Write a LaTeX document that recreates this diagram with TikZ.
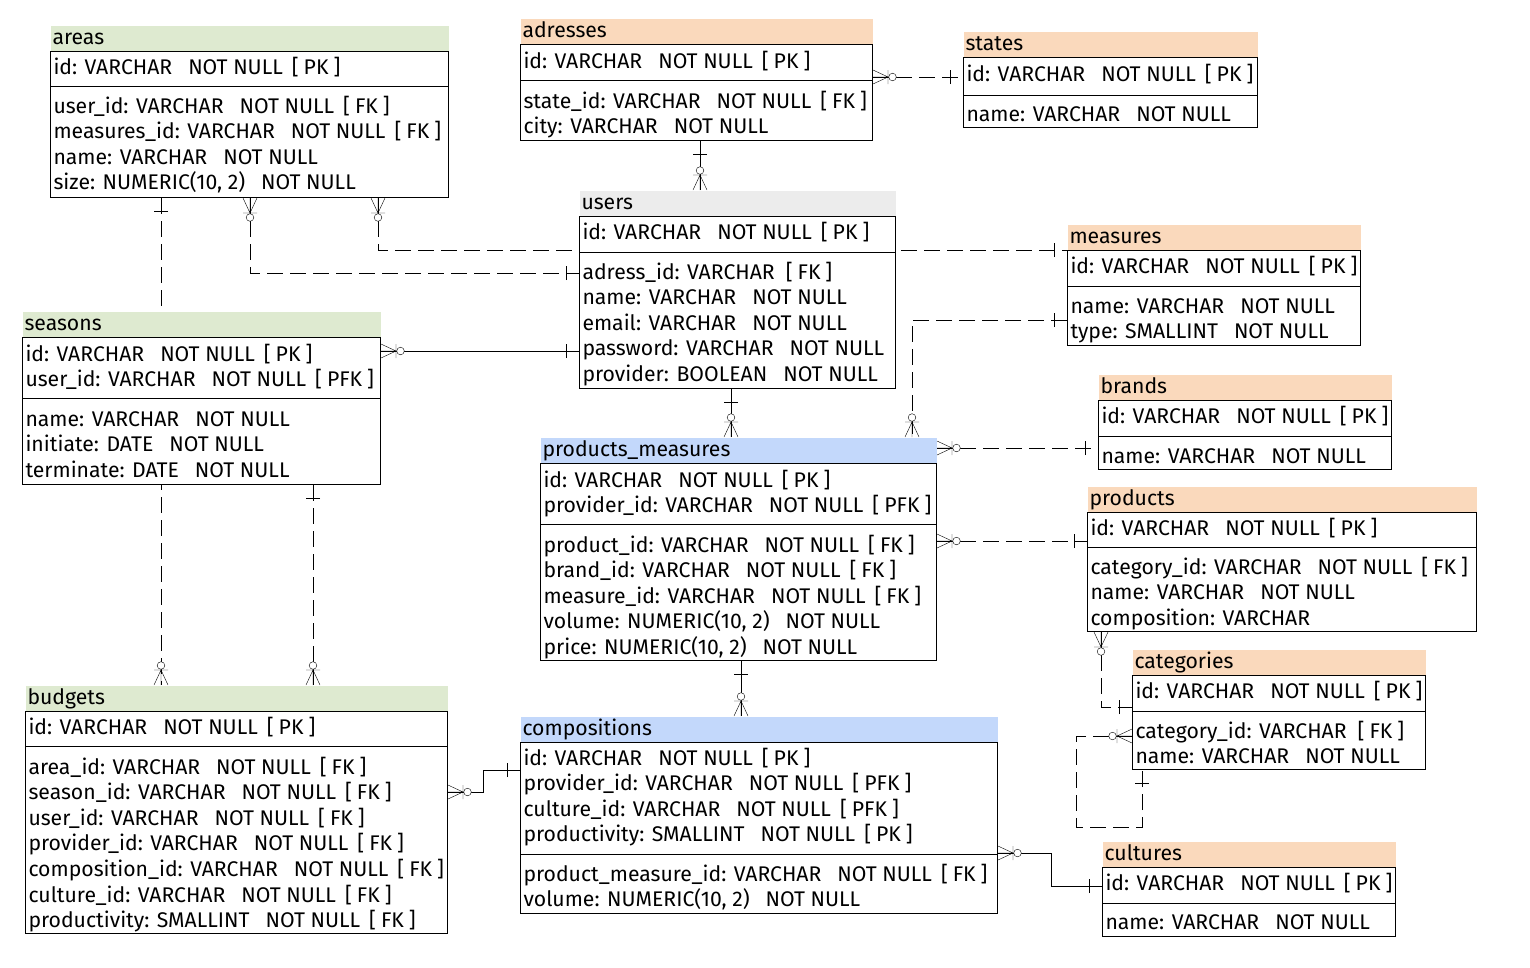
\documentclass[tikz,border=0pt]{standalone}
\usepackage{fontspec}
\setmainfont{Fira Sans}
\usetikzlibrary{calc}
\pgfdeclarelayer{background}
\pgfsetlayers{background,main}
\definecolor{hdrgreen}{RGB}{222,234,208}
\definecolor{hdrorange}{RGB}{250,217,188}
\definecolor{hdrblue}{RGB}{195,216,251}
\definecolor{hdrgray}{RGB}{236,236,236}
\newcommand{\notnull}{\hspace{16pt}NOT NULL}
\newcommand{\keytag}[1]{\hspace{9pt}[\hspace{5pt}#1\hspace{5pt}]}
\newcommand{\fieldrows}[4]{\foreach \txt [count=\i] in {#4} {\node[field] (#1\i) at (#2,{#3+25.6*(\i-1)}) {\txt};}}

\begin{document}
\begin{tikzpicture}[x=1pt,y=-1pt,line width=1pt,font=\fontsize{21.2}{25}\selectfont,
  head/.style={anchor=north west,inner xsep=2pt,inner ysep=0pt,minimum height=26pt,text height=16pt,text depth=4pt,text width=#1},
  box/.style={draw,fill=white,anchor=north west,inner sep=0pt},
  field/.style={anchor=base west,inner sep=0pt},
  rel/.style={dash pattern=on 16pt off 7pt},
  zmany/.pic={\draw[solid] (0,7) -- (15,0) -- (0,-7) (0,0) -- (16,0) (15,7) -- (15,-7);
    \draw[solid,fill=white] (19.5,0) circle [radius=3.8pt];},
  onebar/.pic={\draw[solid] (13,-7) -- (13,7);}]
  \useasboundingbox (0,0) rectangle (1530,967);

  \node[head=394pt,fill=hdrgreen] (areasH) at (50,25) {areas};
  \node[box,minimum width=398pt,minimum height=146pt] (areasB) at (50,51) {};
  \draw (areasB.west |- 0,86) -- (areasB.east |- 0,86);
  \fieldrows{areasK}{53}{74}{{id: VARCHAR\notnull\keytag{PK}}}
  \fieldrows{areasF}{53}{113}{{user\_id: VARCHAR\notnull\keytag{FK}},{measures\_id: VARCHAR\notnull\keytag{FK}},{name: VARCHAR\notnull},{size: NUMERIC(10, 2)\notnull}}

  \node[head=348pt,fill=hdrorange] (adressesH) at (520,18) {adresses};
  \node[box,minimum width=352pt,minimum height=96pt] (adressesB) at (520,44) {};
  \draw (adressesB.west |- 0,80) -- (adressesB.east |- 0,80);
  \fieldrows{adressesK}{523}{68}{{id: VARCHAR\notnull\keytag{PK}}}
  \fieldrows{adressesF}{523}{108}{{state\_id: VARCHAR\notnull\keytag{FK}},{city: VARCHAR\notnull}}

  \node[head=290pt,fill=hdrorange] (statesH) at (963,31) {states};
  \node[box,minimum width=294pt,minimum height=70pt] (statesB) at (963,57) {};
  \draw (statesB.west |- 0,95) -- (statesB.east |- 0,95);
  \fieldrows{statesK}{966}{81}{{id: VARCHAR\notnull\keytag{PK}}}
  \fieldrows{statesF}{966}{121}{{name: VARCHAR\notnull}}

  \node[head=312pt,fill=hdrgray] (usersH) at (579,190) {users};
  \node[box,minimum width=316pt,minimum height=172pt] (usersB) at (579,216) {};
  \draw (usersB.west |- 0,252) -- (usersB.east |- 0,252);
  \fieldrows{usersK}{582}{239}{{id: VARCHAR\notnull\keytag{PK}}}
  \fieldrows{usersF}{582}{279}{{adress\_id: VARCHAR\hspace{2pt}\keytag{FK}},{name: VARCHAR\notnull},{email: VARCHAR\notnull},{password: VARCHAR\notnull},{provider: BOOLEAN\notnull}}

  \node[head=289pt,fill=hdrorange] (measuresH) at (1067,224) {measures};
  \node[box,minimum width=293pt,minimum height=95pt] (measuresB) at (1067,250) {};
  \draw (measuresB.west |- 0,286) -- (measuresB.east |- 0,286);
  \fieldrows{measuresK}{1070}{273}{{id: VARCHAR\notnull\keytag{PK}}}
  \fieldrows{measuresF}{1070}{313}{{name: VARCHAR\notnull},{type: SMALLINT\notnull}}

  \node[head=354pt,fill=hdrgreen] (seasonsH) at (22,311) {seasons};
  \node[box,minimum width=358pt,minimum height=147pt] (seasonsB) at (22,337) {};
  \draw (seasonsB.west |- 0,398) -- (seasonsB.east |- 0,398);
  \fieldrows{seasonsK}{25}{361}{{id: VARCHAR\notnull\keytag{PK}},{user\_id: VARCHAR\notnull\keytag{PFK}}}
  \fieldrows{seasonsF}{25}{426}{{name: VARCHAR\notnull},{initiate: DATE\notnull},{terminate: DATE\notnull}}

  \node[head=289pt,fill=hdrorange] (brandsH) at (1098,374) {brands};
  \node[box,minimum width=293pt,minimum height=69pt] (brandsB) at (1098,400) {};
  \draw (brandsB.west |- 0,436) -- (brandsB.east |- 0,436);
  \fieldrows{brandsK}{1101}{423}{{id: VARCHAR\notnull\keytag{PK}}}
  \fieldrows{brandsF}{1101}{463}{{name: VARCHAR\notnull}}

  \node[head=392pt,fill=hdrblue] (pmH) at (540,437) {products\_measures};
  \node[box,minimum width=396pt,minimum height=197pt] (pmB) at (540,463) {};
  \draw (pmB.west |- 0,524) -- (pmB.east |- 0,524);
  \fieldrows{pmK}{543}{487}{{id: VARCHAR\notnull\keytag{PK}},{provider\_id: VARCHAR\notnull\keytag{PFK}}}
  \fieldrows{pmF}{543}{552}{{product\_id: VARCHAR\notnull\keytag{FK}},{brand\_id: VARCHAR\notnull\keytag{FK}},{measure\_id: VARCHAR\notnull\keytag{FK}},{volume: NUMERIC(10, 2)\notnull},{price: NUMERIC(10, 2)\notnull}}

  \node[head=385pt,fill=hdrorange] (productsH) at (1087,486) {products};
  \node[box,minimum width=389pt,minimum height=119pt] (productsB) at (1087,512) {};
  \draw (productsB.west |- 0,547) -- (productsB.east |- 0,547);
  \fieldrows{productsK}{1090}{535}{{id: VARCHAR\notnull\keytag{PK}}}
  \fieldrows{productsF}{1090}{574}{{category\_id: VARCHAR\notnull\keytag{FK}},{name: VARCHAR\notnull},{composition: VARCHAR}}

  \node[head=289pt,fill=hdrorange] (categoriesH) at (1132,649) {categories};
  \node[box,minimum width=293pt,minimum height=94pt] (categoriesB) at (1132,675) {};
  \draw (categoriesB.west |- 0,711) -- (categoriesB.east |- 0,711);
  \fieldrows{categoriesK}{1135}{698}{{id: VARCHAR\notnull\keytag{PK}}}
  \fieldrows{categoriesF}{1135}{738}{{category\_id: VARCHAR\hspace{2pt}\keytag{FK}},{name: VARCHAR\notnull}}

  \node[head=418pt,fill=hdrgreen] (budgetsH) at (25,685) {budgets};
  \node[box,minimum width=422pt,minimum height=222pt] (budgetsB) at (25,711) {};
  \draw (budgetsB.west |- 0,746) -- (budgetsB.east |- 0,746);
  \fieldrows{budgetsK}{28}{734}{{id: VARCHAR\notnull\keytag{PK}}}
  \fieldrows{budgetsF}{28}{774}{{area\_id: VARCHAR\notnull\keytag{FK}},{season\_id: VARCHAR\notnull\keytag{FK}},{user\_id: VARCHAR\notnull\keytag{FK}},{provider\_id: VARCHAR\notnull\keytag{FK}},{composition\_id: VARCHAR\notnull\keytag{FK}},{culture\_id: VARCHAR\notnull\keytag{FK}},{productivity: SMALLINT\notnull\keytag{FK}}}

  \node[head=473pt,fill=hdrblue] (compH) at (520,716) {compositions};
  \node[box,minimum width=477pt,minimum height=171pt] (compB) at (520,742) {};
  \draw (compB.west |- 0,854) -- (compB.east |- 0,854);
  \fieldrows{compK}{523}{765}{{id: VARCHAR\notnull\keytag{PK}},{provider\_id: VARCHAR\notnull\keytag{PFK}},{culture\_id: VARCHAR\notnull\keytag{PFK}},{productivity: SMALLINT\notnull\keytag{PK}}}
  \fieldrows{compF}{523}{881}{{product\_measure\_id: VARCHAR\notnull\keytag{FK}},{volume: NUMERIC(10, 2)\notnull}}

  \node[head=289pt,fill=hdrorange] (culturesH) at (1102,841) {cultures};
  \node[box,minimum width=293pt,minimum height=69pt] (culturesB) at (1102,867) {};
  \draw (culturesB.west |- 0,903) -- (culturesB.east |- 0,903);
  \fieldrows{culturesK}{1105}{890}{{id: VARCHAR\notnull\keytag{PK}}}
  \fieldrows{culturesF}{1105}{929}{{name: VARCHAR\notnull}}

  \begin{pgfonlayer}{background}
  \draw[rel] (adressesB.east |- 0,77) pic{zmany} -- (statesB.west |- 0,77) pic[rotate=180]{onebar};
  \draw (700,0 |- adressesB.south) pic[rotate=270]{onebar} -- (700,0 |- usersH.north) pic[rotate=90]{zmany};
  \draw[rel] (161,0 |- areasB.south) pic[rotate=270]{onebar} -- (161,0 |- budgetsH.north) pic[rotate=90]{zmany};
  \draw[rel] (250,0 |- areasB.south) pic[rotate=270]{zmany} |- (usersB.west |- 0,273) pic[rotate=180]{onebar};
  \draw[rel] (378,0 |- areasB.south) pic[rotate=270]{zmany} |- (measuresB.west |- 0,250) pic[rotate=180]{onebar};
  \draw (seasonsB.east |- 0,351) pic{zmany} -- (usersB.west |- 0,351) pic[rotate=180]{onebar};
  \draw (731,0 |- usersB.south) pic[rotate=270]{onebar} -- (731,0 |- pmH.north) pic[rotate=90]{zmany};
  \draw[rel] (measuresB.west |- 0,320) pic[rotate=180]{onebar} -| (912,0 |- pmH.north) pic[rotate=90]{zmany};
  \draw[rel] (pmH.east |- 0,448) pic{zmany} -- (brandsB.west |- 0,448) pic[rotate=180]{onebar};
  \draw[rel] (pmB.east |- 0,541) pic{zmany} -- (productsB.west |- 0,541) pic[rotate=180]{onebar};
  \draw (741,0 |- pmB.south) pic[rotate=270]{onebar} -- (741,0 |- compH.north) pic[rotate=90]{zmany};
  \draw (compB.west |- 0,770) pic[rotate=180]{onebar} -- ++(-37,0) |- (budgetsB.east |- 0,792) pic{zmany};
  \draw (compB.east |- 0,853) pic{zmany} -- ++(53,0) |- (culturesB.west |- 0,886) pic[rotate=180]{onebar};
  \draw[rel] (313,0 |- seasonsB.south) pic[rotate=270]{onebar} -- (313,0 |- budgetsH.north) pic[rotate=90]{zmany};
  \draw[rel] (1101,0 |- productsB.south) pic[rotate=270]{zmany} |- (categoriesB.west |- 0,707) pic[rotate=180]{onebar};
  \draw[rel] (categoriesB.west |- 0,736) pic[rotate=180]{zmany} -| (1076,827) -| (1142,0 |- categoriesB.south) pic[rotate=270]{onebar};
  \end{pgfonlayer}
\end{tikzpicture}
\end{document}
